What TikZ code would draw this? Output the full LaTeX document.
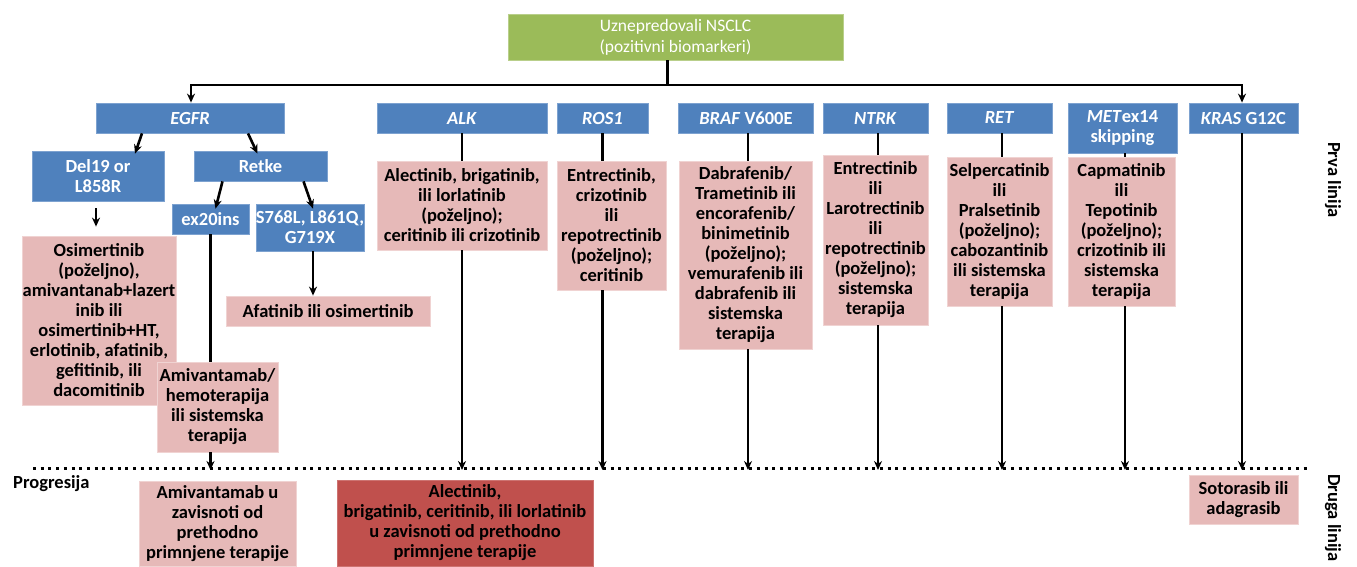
\documentclass[tikz,border=0pt]{standalone}
\usepackage{fontspec}
\setmainfont{Carlito}
\usetikzlibrary{arrows.meta}
\definecolor{hdrblue}{HTML}{4F81BD}
\definecolor{hdredge}{HTML}{7DA2D0}
\definecolor{rxpink}{HTML}{E6B9B8}
\definecolor{rxedge}{HTML}{F0D3D2}
\definecolor{rxred}{HTML}{C0504D}
\definecolor{topgreen}{HTML}{9BBB59}
\begin{document}
\begin{tikzpicture}[x=1pt,y=-1pt,
    every node/.style={font=\fontsize{18.5}{20}\selectfont\bfseries, align=center, inner sep=0pt},
    wh/.style 2 args={minimum width=#1pt, minimum height=#2pt},
    hdr/.style={fill=hdrblue, draw=hdredge, line width=0.8pt, text=white},
    rx/.style={fill=rxpink, draw=rxedge, line width=0.8pt, text=black},
    rxdark/.style={fill=rxred, draw=rxred!80!white, line width=0.8pt, text=black},
    root/.style={fill=topgreen, draw=topgreen!70!white, line width=0.8pt, text=white,
      font=\fontsize{17.5}{21}\selectfont},
    link/.style={line width=2.6pt},
    arr/.style={line width=2.6pt, -{Stealth[length=9pt,width=8pt]}},
    dotline/.style={line width=3pt, dash pattern=on 3pt off 4.7pt}]
  \useasboundingbox (0,0) rectangle (1357,567);
  \node[root, wh={335}{46}] (nsclc) at (675.5,37) {Uznepredovali NSCLC\\(pozitivni biomarkeri)};
  \node[hdr, wh={188}{30}] (egfr) at (190,118) {\textit{EGFR}};
  \node[hdr, wh={170}{30}] (alk) at (462,118) {\textit{ALK}};
  \node[hdr, wh={91}{30}] (ros) at (602.5,118) {\textit{ROS1}};
  \node[hdr, wh={135}{30}] (braf) at (746,118) {\textit{BRAF} V600E};
  \node[hdr, wh={105}{30}] (ntrk) at (875.5,118) {\textit{NTRK}};
  \node[hdr, wh={105}{30}] (ret) at (999.5,118) {\textit{RET}};
  \node[hdr, wh={109}{50}] (met) at (1122.5,128) {\textit{MET}ex14\\skipping};
  \node[hdr, wh={109}{30}] (kras) at (1243.5,118) {\textit{KRAS} G12C};
  \node[hdr, wh={132}{50}] (del) at (98,176) {Del19 or\\L858R};
  \node[hdr, wh={133}{30}] (retke) at (260.5,166) {Retke};
  \node[hdr, wh={77}{30}] (ex20) at (210.5,219) {ex20ins};
  \node[hdr, wh={108}{47}] (rare) at (310,227.5) {S768L, L861Q,\\G719X};
  \node[rx, wh={154}{169}] (osim) at (99,320.5) {Osimertinib\\(poželjno),\\amivantanab+lazert\\inib ili\\osimertinib+HT,\\erlotinib, afatinib,\\gefitinib, ili\\dacomitinib};
  \node[rx, wh={204}{30}] (afat) at (328,311) {Afatinib ili osimertinib};
  \node[rx, wh={121}{90}] (amiv) at (217.5,407) {Amivantamab/\\hemoterapija\\ili sistemska\\terapija};
  \node[rx, wh={170}{89}] (alkrx) at (462,205.5) {Alectinib, brigatinib,\\ili lorlatinib\\(poželjno);\\ceritinib ili crizotinib};
  \node[rx, wh={109}{129}] (rosrx) at (611.5,225.5) {Entrectinib,\\crizotinib\\ili\\repotrectinib\\(poželjno);\\ceritinib};
  \node[rx, wh={133}{188}] (brafrx) at (745.5,255) {Dabrafenib/\\Trametinib ili\\encorafenib/\\binimetinib\\(poželjno);\\vemurafenib ili\\dabrafenib ili\\sistemska\\terapija};
  \node[rx, wh={105}{170}] (ntrkrx) at (875.5,240) {Entrectinib\\ili\\Larotrectinib\\ili\\repotrectinib\\(poželjno);\\sistemska\\terapija};
  \node[rx, wh={105}{149}] (retrx) at (999.5,231.5) {Selpercatinib\\ili\\Pralsetinib\\(poželjno);\\cabozantinib\\ili sistemska\\terapija};
  \node[rx, wh={107}{149}] (metrx) at (1121.5,231.5) {Capmatinib\\ili\\Tepotinib\\(poželjno);\\crizotinib ili\\sistemska\\terapija};
  \node[rx, wh={157}{85}] (amiv2) at (217.5,523.5) {Amivantamab u\\zavisnoti od\\prethodno\\primnjene terapije};
  \node[rxdark, wh={256}{86}] (alk2) at (465,523) {Alectinib,\\brigatinib, ceritinib, ili lorlatinib\\u zavisnoti od prethodno\\primnjene terapije};
  \node[rx, wh={109}{49}] (soto) at (1243.5,499.5) {Sotorasib ili\\adagrasib};
  \node[anchor=west] (prog) at (13,484) {Progresija};
  \node[rotate=-90] (prva) at (1333,180) {Prva linija};
  \node[rotate=-90] (druga) at (1333,518) {Druga linija};
  \coordinate (bar) at (0,85);
  \coordinate (dl) at (33,468);
  \coordinate (dr) at (1310,468);
  \draw[dotline] (dl) -- (dr);
  \draw[line width=3.5pt] ([xshift=-8pt]nsclc.south) -- ([xshift=-8pt]nsclc.south |- bar);
  \draw[link, {Stealth[length=9pt,width=8pt]}-{Stealth[length=9pt,width=8pt]}]
    ([xshift=1pt]egfr.north) |- ([xshift=-1.5pt]kras.north |- bar) -- ([xshift=-1.5pt]kras.north);
  \begin{scope}[arr]
    \draw ([xshift=-48pt]egfr.south) -- ([xshift=37pt, yshift=-3pt]del.north);
    \draw ([xshift=58pt]egfr.south) -- ([xshift=-3pt, yshift=-3pt]retke.north);
    \draw ([xshift=-38pt]retke.south) -- ([xshift=5pt, yshift=-5pt]ex20.north);
    \draw ([xshift=43pt]retke.south) -- ([xshift=3pt, yshift=-5pt]rare.north);
    \draw[shorten <=7pt, shorten >=9pt] ([xshift=-2pt]del.south) -- ([xshift=-2pt]del.south |- osim.north);
    \draw ([xshift=3pt]rare.south) -- ([xshift=3pt]rare.south |- afat.north);
    \draw (ex20.south |- amiv.south) -- ([yshift=-2pt]ex20.south |- dl);
    \draw (alk.south |- alkrx.south) -- ([yshift=-2pt]alk.south |- dl);
    \draw (ros.south |- rosrx.south) -- ([yshift=-2pt]ros.south |- dl);
    \draw ([xshift=2pt]braf.south |- brafrx.south) -- ([xshift=2pt, yshift=-2pt]braf.south |- dl);
    \draw ([xshift=2.5pt]ntrk.south |- ntrkrx.south) -- ([xshift=2.5pt, yshift=-2pt]ntrk.south |- dl);
    \draw ([xshift=2.5pt]ret.south |- retrx.south) -- ([xshift=2.5pt, yshift=-2pt]ret.south |- dl);
    \draw ([xshift=2.5pt]met.south |- metrx.south) -- ([xshift=2.5pt, yshift=-2pt]met.south |- dl);
    \draw ([xshift=-1.5pt]kras.south) -- ([xshift=-1.5pt, yshift=-2pt]kras.south |- dl);
  \end{scope}
  \begin{scope}[link]
    \draw (ex20.south) -- (ex20.south |- amiv.north);
    \draw (alk.south) -- (alk.south |- alkrx.north);
    \draw (ros.south) -- (ros.south |- rosrx.north);
    \draw ([xshift=2pt]braf.south) -- ([xshift=2pt]braf.south |- brafrx.north);
    \draw ([xshift=2.5pt]ntrk.south) -- ([xshift=2.5pt]ntrk.south |- ntrkrx.north);
    \draw ([xshift=2.5pt]ret.south) -- ([xshift=2.5pt]ret.south |- retrx.north);
    \draw ([xshift=2.5pt]met.south) -- ([xshift=2.5pt]met.south |- metrx.north);
  \end{scope}
\end{tikzpicture}
\end{document}
